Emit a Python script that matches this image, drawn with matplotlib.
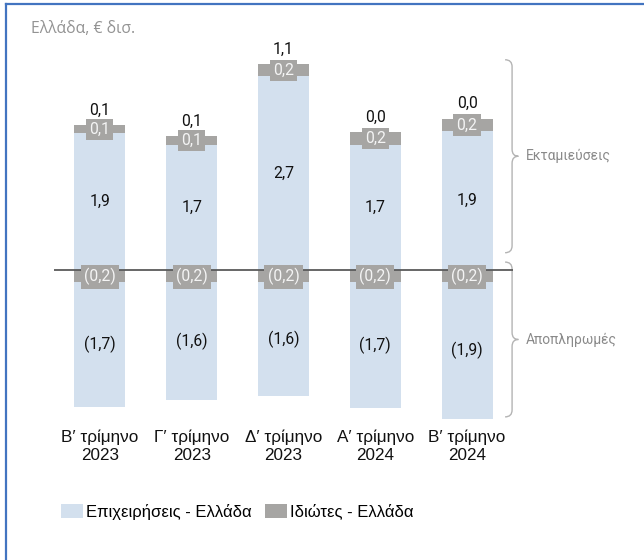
import matplotlib
matplotlib.use("Agg")
import matplotlib.pyplot as plt
from matplotlib.path import Path
from matplotlib.patches import PathPatch, Patch
from matplotlib.lines import Line2D
import matplotlib.transforms as mtransforms
import numpy as np

plt.rcParams['font.family'] = ['Roboto', 'DejaVu Sans']

categories = ["Β′ τρίμηνο\n2023", "Γ′ τρίμηνο\n2023", "Δ′ τρίμηνο\n2023",
              "Α′ τρίμηνο\n2024", "Β′ τρίμηνο\n2024"]
business_disb = [1.90, 1.74, 2.69, 1.74, 1.93]
private_disb = [0.11, 0.12, 0.17, 0.17, 0.17]
private_repay = [-0.17, -0.17, -0.17, -0.17, -0.17]
business_repay = [-1.73, -1.63, -1.58, -1.74, -1.90]
net_values = [0.1, 0.1, 1.1, 0.0, 0.0]
series_names = ["Επιχειρήσεις - Ελλάδα", "Ιδιώτες - Ελλάδα"]

BLUE = "#d3e0ee"
GREY = "#a6a5a3"
W, H = 644, 560
ARIAL = ['Liberation Sans', 'DejaVu Sans']

fig = plt.figure(figsize=(W / 100, H / 100), dpi=100)
ax = fig.add_axes([54 / W, (H - 428.4) / H, 459 / W, 388.8 / H])

x = np.arange(len(categories))
bw = 0.557

def fmt(v, neg=False):
    s = f"{abs(v):.1f}".replace(".", ",")
    return f"({s})" if neg else s

ax.bar(x, business_disb, bw, color=BLUE, zorder=2)
ax.bar(x, private_disb, bw, bottom=business_disb, color=GREY, zorder=2)
ax.bar(x, private_repay, bw, color=GREY, zorder=2)
ax.bar(x, business_repay, bw, bottom=private_repay, color=BLUE, zorder=2)

ax.axhline(0, color="#5a5a5a", lw=1.3, zorder=3)

FS = 11.3
box = dict(boxstyle="square,pad=0.2", fc=GREY, ec="none")
for i in range(len(x)):
    ax.text(x[i], business_disb[i] / 2, fmt(business_disb[i]), ha="center",
            va="center", fontsize=FS, color="#111111", zorder=5)
    ax.text(x[i], business_disb[i] + private_disb[i] / 2, fmt(private_disb[i]),
            ha="center", va="center", fontsize=FS, color="#f4f4f4", bbox=box, zorder=5)
    top = business_disb[i] + private_disb[i]
    ax.annotate(fmt(net_values[i]), (x[i], top), xytext=(0, 5.5),
                textcoords="offset points", ha="center", va="bottom",
                fontsize=FS, color="#111111", zorder=5)
    ax.text(x[i], private_repay[i] / 2 - 0.01, fmt(private_repay[i], True),
            ha="center", va="center", fontsize=FS, color="#f4f4f4", bbox=box, zorder=5)
    ax.text(x[i], private_repay[i] + business_repay[i] / 2, fmt(business_repay[i], True),
            ha="center", va="center", fontsize=FS, color="#111111", zorder=5)

ax.set_xlim(-0.5, 4.5)
ax.set_ylim(-2.2, 3.2)
ax.set_xticks(x)
ax.set_xticklabels(categories, fontsize=12.3, color="#111111", linespacing=1.25,
                   family=ARIAL)
ax.tick_params(axis="x", length=0, pad=0.5)
ax.set_yticks([])
for s in ax.spines.values():
    s.set_visible(False)

trans = mtransforms.blended_transform_factory(ax.transAxes, ax.transData)
def brace(y_top, y_bot, label):
    x0 = 0.998
    dx = 7 / 459
    dy = 7 / 72
    ym = (y_top + y_bot) / 2
    verts = [(x0 - dx, y_top), (x0, y_top), (x0, y_top - dy),
             (x0, ym + dy), (x0, ym), (x0 + dx * 0.9, ym),
             (x0, ym), (x0, ym - dy),
             (x0, y_bot + dy), (x0, y_bot), (x0 - dx, y_bot)]
    codes = [Path.MOVETO, Path.CURVE3, Path.CURVE3,
             Path.LINETO, Path.CURVE3, Path.CURVE3,
             Path.CURVE3, Path.CURVE3,
             Path.LINETO, Path.CURVE3, Path.CURVE3]
    p = PathPatch(Path(verts, codes), transform=trans, fc="none",
                  ec="#b4b4b4", lw=1.0, clip_on=False)
    ax.add_patch(p)
    ax.text(1.028, ym, label, transform=trans, ha="left", va="center",
            fontsize=10, color="#8a8a8a")

brace(2.92, 0.24, "Εκταμιεύσεις")
brace(0.11, -2.04, "Αποπληρωμές")

fig.text(31 / W, 1 - 29 / H, "Ελλάδα, € δισ.", ha="left", va="center",
         fontsize=11.3, color="#939393", family=['Open Sans', 'DejaVu Sans'])

handles = [Patch(facecolor=BLUE, edgecolor="none"), Patch(facecolor=GREY, edgecolor="none")]
fig.legend(handles, series_names, loc="center left",
           bbox_to_anchor=(60.5 / W, 1 - 511.5 / H), ncol=2, frameon=False,
           handlelength=1.32, handleheight=0.9, handletextpad=0.21,
           columnspacing=0.78, borderaxespad=0, borderpad=0,
           prop={'family': ARIAL, 'size': 12})

fig.add_artist(Line2D([5.5 / W, 1], [1 - 4 / H, 1 - 4 / H], color="#4274c0", lw=1.6,
                      transform=fig.transFigure))
fig.add_artist(Line2D([5.5 / W, 5.5 / W], [0, 1 - 4 / H], color="#4274c0", lw=1.6,
                      transform=fig.transFigure))

fig.savefig("out.png", dpi=100)
